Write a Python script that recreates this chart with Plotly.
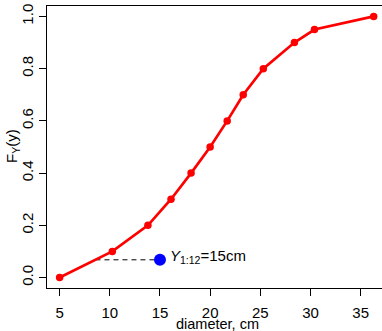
import numpy as np
import plotly.graph_objects as go

# ECDF points (diameter, cm vs F_Y(y))
diam = [5.0, 10.25, 13.8, 16.1, 18.1, 20.0, 21.7, 23.3, 25.3, 28.4, 30.4, 36.3]
cdf = [0.0, 0.1, 0.2, 0.3, 0.4, 0.5, 0.6, 0.7, 0.8, 0.9, 0.95, 1.0]

# highlighted point
pt_x = [15.0]
pt_y = [0.068]

x_ticks = [5, 10, 15, 20, 25, 30, 35]
y_ticks = [0.0, 0.2, 0.4, 0.6, 0.8, 1.0]

FONT = "Liberation Sans, Arial, Helvetica, sans-serif"
FS = 15

x_start = float(np.interp(pt_y[0], cdf, diam))

fig = go.Figure()
fig.add_trace(go.Scatter(
    x=[x_start, pt_x[0]], y=[pt_y[0], pt_y[0]], mode="lines",
    line=dict(color="black", width=1, dash="5px,4px"),
    hoverinfo="skip", showlegend=False))
fig.add_trace(go.Scatter(
    x=diam, y=cdf, mode="lines+markers",
    line=dict(color="#FF0000", width=2.7),
    marker=dict(color="#FF0000", size=7.5),
    showlegend=False))
fig.add_trace(go.Scatter(
    x=pt_x, y=pt_y, mode="markers",
    marker=dict(color="#0000FF", size=12),
    showlegend=False))

fig.add_annotation(
    x=pt_x[0], y=pt_y[0], xref="x", yref="y",
    text="<i>Y</i><sub>1:12</sub>=15cm", showarrow=False,
    xanchor="left", yanchor="middle", xshift=8, yshift=3,
    font=dict(family=FONT, size=FS, color="black"))
fig.add_annotation(
    x=(217 - 47) / (382 - 47), y=-(323.5 - 288) / (288 - 6),
    xref="paper", yref="paper", text="diameter, cm", showarrow=False,
    xanchor="center", yanchor="middle",
    font=dict(family=FONT, size=14.5, color="black"))
fig.add_annotation(
    x=-(47 - 12) / (382 - 47), y=(288 - 146) / (288 - 6),
    xref="paper", yref="paper", text="F<sub>Y</sub>(y)", showarrow=False,
    textangle=-90, xanchor="center", yanchor="middle",
    font=dict(family=FONT, size=FS, color="black"))

fig.update_layout(
    width=382, height=331,
    margin=dict(l=47, r=0, t=6, b=43),
    paper_bgcolor="white", plot_bgcolor="white",
    font=dict(family=FONT, size=FS, color="black"),
    showlegend=False,
)

fig.update_xaxes(
    range=[3.74, 37.13], tickvals=x_ticks, ticktext=[str(v) for v in x_ticks],
    showgrid=False, zeroline=False, showline=True, linecolor="black",
    linewidth=1, mirror=True, ticks="outside", ticklen=7, tickcolor="black",
    ticklabelstandoff=4,
    tickfont=dict(family=FONT, size=FS, color="black"))
fig.update_yaxes(
    range=[-0.04, 1.04], tickvals=y_ticks, ticktext=[f"{v:.1f}" for v in y_ticks],
    showgrid=False, zeroline=False, showline=True, linecolor="black",
    linewidth=1, ticks="outside", ticklen=7, tickcolor="black", tickangle=-90,
    tickfont=dict(family=FONT, size=FS, color="black"))

fig.write_html("out.html")
